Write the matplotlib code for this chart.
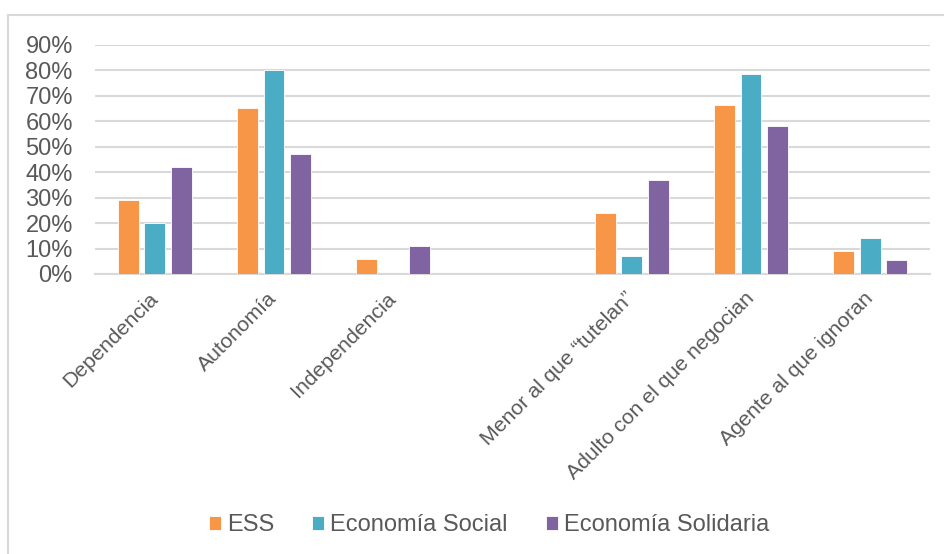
import numpy as np
import matplotlib
matplotlib.use("Agg")
import matplotlib.pyplot as plt
from matplotlib.patches import Rectangle
from matplotlib.ticker import PercentFormatter

plt.rcParams['font.family'] = ['Liberation Sans', 'DejaVu Sans']

# categorías (la cuarta va vacía, como separación entre los dos bloques)
categorias = ["Dependencia", "Autonomía", "Independencia", "",
              "Menor al que \u201ctutelan\u201d", "Adulto con el que negocian",
              "Agente al que ignoran"]
series = ["ESS", "Economía Social", "Economía Solidaria"]

ess = [0.29, 0.65, 0.06, 0.0, 0.24, 0.665, 0.09]
eco_social = [0.20, 0.80, 0.0, 0.0, 0.07, 0.785, 0.14]
eco_solidaria = [0.42, 0.47, 0.11, 0.0, 0.367, 0.58, 0.054]

colores = ["#F79646", "#4BACC6", "#8064A2"]
gris_texto = "#595959"
gris_linea = "#D9D9D9"

fig = plt.figure(figsize=(9.45, 5.54), dpi=100)
W, H = 945, 554

# marco del gráfico
fig.patches.append(Rectangle((8 / W, -0.1), 1.1, (H - 15) / H + 0.1,
                             transform=fig.transFigure, fill=False,
                             edgecolor=gris_linea, linewidth=1.5))

ax = fig.add_axes([95 / W, 1 - 274 / H, (930 - 95) / W, (274 - 44.7) / H])

x = np.arange(len(categorias))
paso = 0.222
ancho = 0.174
for i, (vals, nombre) in enumerate(zip([ess, eco_social, eco_solidaria], series)):
    ax.bar(x + (i - 1) * paso, vals, width=ancho, color=colores[i],
           edgecolor="white", linewidth=0.6, label=nombre, zorder=3)

ax.set_xlim(-0.5, len(categorias) - 0.5)
ax.set_ylim(0, 0.9)
ax.set_yticks(np.arange(0, 0.91, 0.1))
ax.yaxis.set_major_formatter(PercentFormatter(1.0, decimals=0))
ax.grid(axis="y", color=gris_linea, linewidth=1.5, zorder=0)
ax.set_axisbelow(True)

for s in ["top", "right", "left"]:
    ax.spines[s].set_visible(False)
ax.spines["bottom"].set_color(gris_linea)
ax.spines["bottom"].set_linewidth(1.5)

ax.tick_params(axis="both", length=0, colors=gris_texto, labelsize=17)
ax.tick_params(axis="y", pad=16)
ax.set_xticks(x)
ax.set_xticklabels(categorias, rotation=45, ha="right", va="center",
                   rotation_mode="anchor", fontsize=15.3)
ax.tick_params(axis="x", pad=15.5)

leg = ax.legend(loc="center", bbox_to_anchor=((489 - 95) / 835, (274 - 525) / (274 - 44.7)),
                ncol=3, frameon=False, fontsize=17, handlelength=0.52,
                handleheight=0.52, handletextpad=0.25, columnspacing=1.6,
                labelcolor=gris_texto)

fig.savefig("out.png", dpi=100, facecolor="white")
